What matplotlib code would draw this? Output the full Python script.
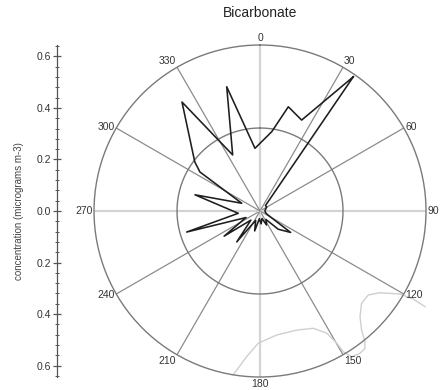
import numpy as np
import matplotlib.pyplot as plt
from matplotlib.ticker import MultipleLocator

plt.rcParams['font.family'] = ['Liberation Sans', 'DejaVu Sans']

# concentration by wind direction (degrees clockwise from north)
wind_dir = [34.8, 24.6, 15.2, 8.4, 355.4, 345, 334, 324.4, 307, 303, 293, 284,
            264, 254, 245, 235, 225, 217, 205, 195, 185, 175, 165, 155, 145,
            135, 125, 115, 100, 80, 60, 45, 34.8]
conc = [0.634, 0.388, 0.419, 0.311, 0.244, 0.499, 0.242, 0.52, 0.317, 0.278,
        0.077, 0.26, 0.085, 0.296, 0.06, 0.17, 0.05, 0.15, 0.04, 0.08, 0.03,
        0.05, 0.03, 0.06, 0.04, 0.10, 0.145, 0.03, 0.02, 0.02, 0.03, 0.03, 0.634]

# faint trace in the lower right (east / north offsets)
trace_east = [-0.104, -0.052, -0.007, 0.065, 0.142, 0.207, 0.259, 0.298, 0.323,
              0.356, 0.388, 0.407, 0.407, 0.394, 0.388, 0.394, 0.420, 0.465,
              0.543, 0.593, 0.640]
trace_north = [-0.636, -0.565, -0.513, -0.481, -0.462, -0.455, -0.474, -0.513,
               -0.546, -0.566, -0.552, -0.533, -0.507, -0.462, -0.410, -0.358,
               -0.326, -0.317, -0.322, -0.341, -0.371]

dir_ticks = [0, 30, 60, 90, 120, 150, 180, 210, 240, 270, 300, 330]
conc_ticks = [-0.6, -0.4, -0.2, 0.0, 0.2, 0.4, 0.6]
rmax = 0.644

fig = plt.figure(figsize=(4.41, 3.9), dpi=100)
ax = fig.add_axes([0.2132, 0.0333, 0.7528, 0.8513], projection='polar')
ax.set_theta_zero_location('N')
ax.set_theta_direction(-1)
ax.set_ylim(0, rmax)
ax.grid(False)
ax.set_xticks([])
ax.set_yticks([])
ax.spines['polar'].set_color('#7a7a7a')
ax.spines['polar'].set_linewidth(1.0)

# spokes and half-radius ring
for d in dir_ticks:
    t = np.radians(d)
    if d % 90 == 0:
        ax.plot([t, t], [0, rmax], color='#d4d4d4', lw=1.6, zorder=1)
    else:
        ax.plot([t, t], [0, rmax], color='#8c8c8c', lw=0.9, zorder=1)
ring = np.linspace(0, 2 * np.pi, 361)
ax.plot(ring, np.full_like(ring, rmax / 2), color='#7a7a7a', lw=1.0, zorder=1)

# direction labels
for d in dir_ticks:
    t = np.radians(d)
    if d == 0:
        ha, va = 'center', 'bottom'
    elif d == 180:
        ha, va = 'center', 'top'
    elif d < 180:
        ha = 'left'
        va = 'bottom' if d == 30 else ('top' if d == 150 else 'center')
    else:
        ha = 'right'
        va = 'top' if d == 210 else ('bottom' if d == 330 else 'center')
    ax.text(t, rmax * 1.01, str(d), ha=ha, va=va, fontsize=7.5, color='#333333')

# faint trace
te = np.array(trace_east)
tn = np.array(trace_north)
ax.plot(np.arctan2(te, tn), np.hypot(te, tn), color='#cfcfcf', lw=1.0,
        zorder=2, clip_on=False)

# concentration rose
ax.plot(np.radians(wind_dir), conc, color='#1e1e1e', lw=1.15, zorder=3)

ax.text(0.5, 1.075, 'Bicarbonate', transform=ax.transAxes, ha='center',
        va='bottom', fontsize=10, color='#222222')

# concentration scale on the left
ay = fig.add_axes([57 / 441, 0.0333, 0.001, 0.8513])
ay.set_ylim(-rmax, rmax)
ay.set_xticks([])
for s in ['top', 'right', 'bottom']:
    ay.spines[s].set_visible(False)
ay.spines['left'].set_color('#555555')
ay.spines['left'].set_linewidth(0.9)
ay.set_yticks(conc_ticks)
ay.set_yticklabels(['%.1f' % abs(v) for v in conc_ticks])
ay.yaxis.set_minor_locator(MultipleLocator(0.04))
ay.tick_params(axis='y', which='major', direction='inout', length=6,
               width=0.9, color='#555555', labelsize=7.5, labelcolor='#333333',
               pad=1)
ay.tick_params(axis='y', which='minor', direction='inout', length=3,
               width=0.7, color='#555555')
ay.set_ylabel('concentration (micrograms m-3)', fontsize=7, color='#444444',
              labelpad=9)

fig.savefig('out.png', dpi=100)
